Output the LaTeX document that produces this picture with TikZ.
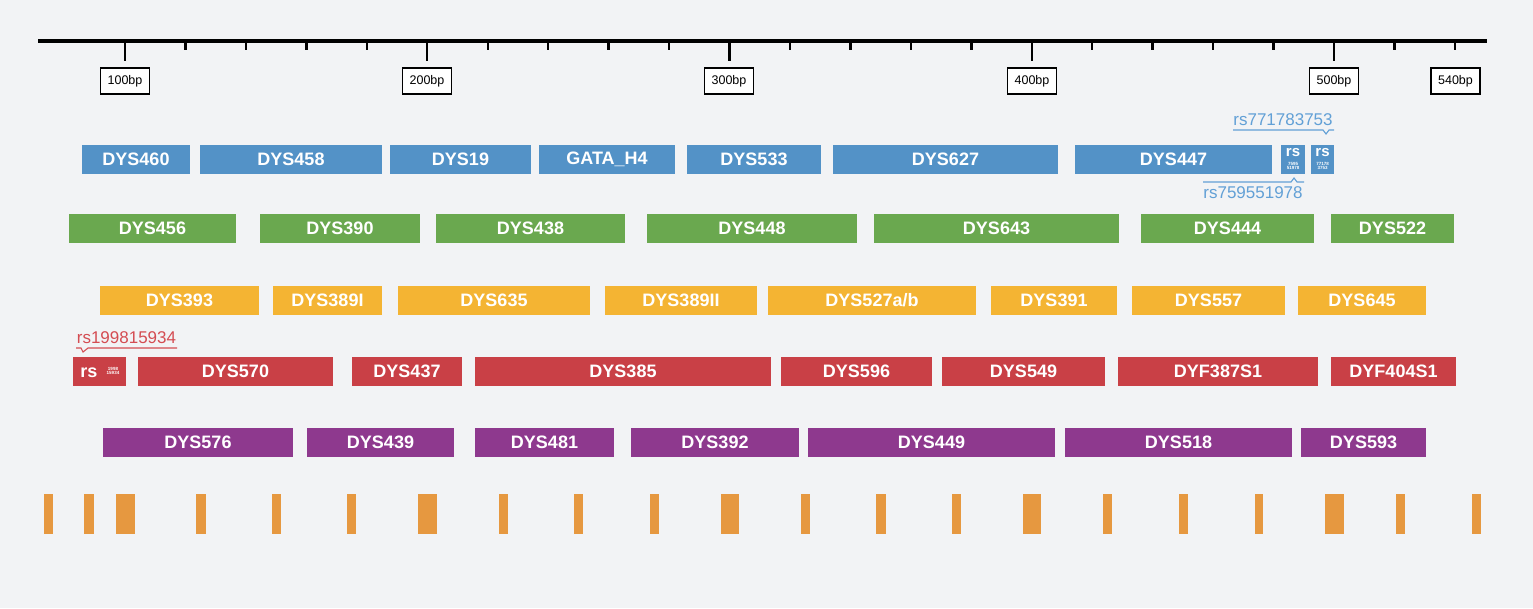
\documentclass[tikz,border=0pt]{standalone}
\usepackage{fontspec}
\setmainfont{Liberation Sans}
\definecolor{bgC}{HTML}{F2F3F5}
\definecolor{blueC}{HTML}{5392C7}
\definecolor{greenC}{HTML}{6AA84F}
\definecolor{yellowC}{HTML}{F4B433}
\definecolor{redC}{HTML}{C94046}
\definecolor{purpleC}{HTML}{8E398E}
\definecolor{orangeC}{HTML}{E69840}
\definecolor{calloutBlue}{HTML}{62A0D6}
\definecolor{calloutRed}{HTML}{D44C52}
\newcommand\genefont{\fontsize{18}{18}\selectfont\bfseries}
\newcommand\tinyfont{\fontsize{4.5}{5}\selectfont\bfseries}
\begin{document}
\begin{tikzpicture}[x=1pt,y=-1pt,
  gene/.style={fill=#1,text=white,font=\genefont,inner sep=0pt,outer sep=0pt,minimum height=29pt,anchor=west},
  rsbox/.style={fill=#1,inner sep=0pt,outer sep=0pt,minimum height=29pt,anchor=west},
  rstext/.style={text=white,inner sep=0pt,outer sep=0pt,font=\fontsize{15}{15}\selectfont\bfseries},
  rstiny/.style={text=white,inner sep=0pt,outer sep=0pt,font=\tinyfont,align=center},
  scalebox/.style={draw=black,line width=1.9pt,fill=white,inner sep=0pt,minimum width=49pt,minimum height=26pt,font=\fontsize{12.5}{13}\selectfont},
  calltext/.style={text=#1,inner sep=0pt,font=\fontsize{17}{17}\selectfont},
  callline/.style={draw=#1,line width=1.1pt},
  bar/.style={fill=orangeC}]
\useasboundingbox (0,0) rectangle (1533,608);
\fill[bgC] (0,0) rectangle (1533,608);

% axis
\coordinate (axL) at (38,40.5);
\coordinate (axR) at (1487,40.5);
\draw[line width=4pt] (axL) -- (axR);
\foreach \i in {0,...,22}{
  \pgfmathsetmacro\tx{125+60.45*\i}
  \pgfmathsetmacro\ty{mod(\i,5)==0 ? 61 : 50}
  \draw[line width=2.4pt] (\tx,41) -- (\tx,\ty);
}
\foreach \x/\l in {125/100bp,427/200bp,729/300bp,1032/400bp,1334/500bp,1455.5/540bp}{
  \node[scalebox] (t\l) at (\x,81) {\l};
}

% blue row
\foreach \n/\a/\b/\t in {b1/82/190/DYS460,b2/200/382/DYS458,b3/390/531/DYS19,b4/539/675/GATA\_H4,b5/687/821/DYS533,b6/833/1058/DYS627,b7/1075/1272/DYS447}{
  \node[gene=blueC,minimum width=\b-\a] (\n) at (\a,159) {\t};
}
\node[rsbox=blueC,minimum width=24pt] (rsA) at (1281,159) {};
\node[rstext] (rsAt) at (1293,153) {rs};
\node[rstiny] (rsAn) at (1293,166) {7595\\[-1pt]51978};
\node[rsbox=blueC,minimum width=23pt] (rsB) at (1311,159) {};
\node[rstext] (rsBt) at (1322.5,153) {rs};
\node[rstiny] (rsBn) at (1322.5,166) {77178\\[-1pt]3753};
\node[calltext=calloutBlue] (cB) at (1283,120) {rs771783753};
\draw[callline=calloutBlue] (1233,130) -- (1323,130) -- (1326,134) -- (1329,130) -- (1334,130);
\node[calltext=calloutBlue] (cA) at (1253,193) {rs759551978};
\draw[callline=calloutBlue] (1203,182) -- (1291,182) -- (1294,178) -- (1297,182) -- (1304,182);

% green row
\foreach \n/\a/\b/\t in {g1/69/236/DYS456,g2/260/420/DYS390,g3/436/625/DYS438,g4/647/857/DYS448,g5/874/1119/DYS643,g6/1141/1314/DYS444,g7/1331/1454/DYS522}{
  \node[gene=greenC,minimum width=\b-\a] (\n) at (\a,228) {\t};
}

% yellow row
\foreach \n/\a/\b/\t in {y1/100/259/DYS393,y2/273/382/DYS389I,y3/398/590/DYS635,y4/605/757/DYS389II,y5/768/976/{DYS527a/b},y6/991/1117/DYS391,y7/1132/1285/DYS557,y8/1298/1426/DYS645}{
  \node[gene=yellowC,minimum width=\b-\a] (\n) at (\a,300) {\t};
}

% red row
\node[rsbox=redC,minimum width=53pt] (rsR) at (73,371) {};
\node[rstext,font=\fontsize{18}{18}\selectfont\bfseries] (rsRt) at (89,373) {rs};
\node[rstiny] (rsRn) at (113,371) {1998\\[-1pt]15934};
\foreach \n/\a/\b/\t in {r1/138/333/DYS570,r2/352/462/DYS437,r3/475/771/DYS385,r4/781/932/DYS596,r5/942/1105/DYS549,r6/1118/1318/DYF387S1,r7/1331/1456/DYF404S1}{
  \node[gene=redC,minimum width=\b-\a] (\n) at (\a,371) {\t};
}
\node[calltext=calloutRed] (cR) at (126.5,337.5) {rs199815934};
\draw[callline=calloutRed] (76,348) -- (81,348) -- (83,352) -- (88,348) -- (177,348);

% purple row
\foreach \n/\a/\b/\t in {p1/103/293/DYS576,p2/307/454/DYS439,p3/475/614/DYS481,p4/631/799/DYS392,p5/808/1055/DYS449,p6/1065/1292/DYS518,p7/1301/1426/DYS593}{
  \node[gene=purpleC,minimum width=\b-\a] (\n) at (\a,442) {\t};
}

% orange bars
\foreach \a/\b in {44/53,84/94,116/135,196/206,272/281,347/356,418/437,499/508,574/583,650/659,721/739,801/810,876/886,952/961,1023/1041,1103/1112,1179/1188,1255/1263,1325/1344,1396/1405,1472/1481}{
  \fill[bar] (\a,494) rectangle (\b,534);
}
\end{tikzpicture}
\end{document}
